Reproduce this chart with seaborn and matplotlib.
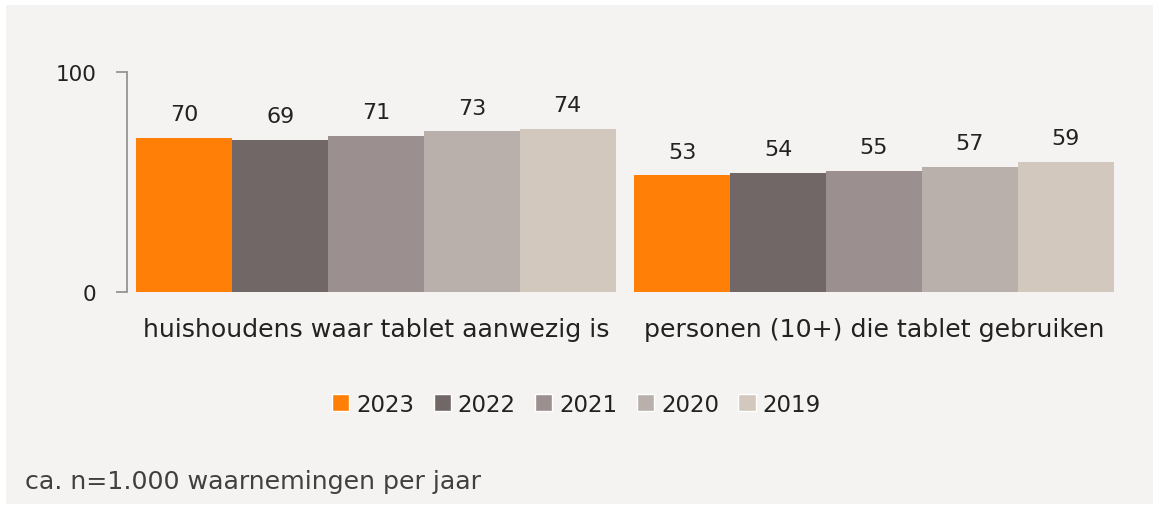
import pandas as pd
import numpy as np
import seaborn as sns
import matplotlib.pyplot as plt
from matplotlib.patches import Rectangle

categories = ["huishoudens waar tablet aanwezig is", "personen (10+) die tablet gebruiken"]
years = ["2023", "2022", "2021", "2020", "2019"]
values_2023 = [70, 53]
values_2022 = [69, 54]
values_2021 = [71, 55]
values_2020 = [73, 57]
values_2019 = [74, 59]
colors = ["#FF7F07", "#726767", "#9C8F8F", "#B9AFAB", "#D3C8BE"]
bg = "#F4F3F1"

series = [values_2023, values_2022, values_2021, values_2020, values_2019]
df = pd.DataFrame(
    [(cat, yr, vals[i]) for yr, vals in zip(years, series) for i, cat in enumerate(categories)],
    columns=["categorie", "jaar", "waarde"],
)

sns.set_style("white")
plt.rcParams['font.family'] = ['DejaVu Sans']

fig = plt.figure(figsize=(11.53, 5.06), dpi=100)
fig.patch.set_facecolor("white")
fig.patches.append(Rectangle((6 / 1153, 1 / 506), 1, 499 / 506, transform=fig.transFigure,
                             facecolor=bg, edgecolor="none", zorder=-10))

ax = fig.add_axes([127 / 1153, 1 - 293 / 506, 996 / 1153, 220 / 506])
ax.set_facecolor(bg)

sns.barplot(data=df, x="categorie", y="waarde", hue="jaar", order=categories,
            hue_order=years, palette=colors, saturation=1, width=0.962,
            edgecolor="none", linewidth=0, ax=ax, legend=False)

for c in ax.containers:
    ax.bar_label(c, padding=10, fontsize=16, color="#222222")

ax.set_ylim(0, 100)
ax.set_xlim(-0.5, 1.5)
ax.set_yticks([0, 100])
ax.set_xlabel("")
ax.set_ylabel("")
for s in ["top", "right", "bottom"]:
    ax.spines[s].set_visible(False)
ax.spines["left"].set_color("#8C8C8C")
ax.spines["left"].set_linewidth(1.2)
ax.tick_params(axis="y", length=8, width=1.2, color="#8C8C8C", labelsize=15.5,
               labelcolor="#222222", pad=14, left=True)
ax.tick_params(axis="x", length=0, labelsize=18.2, labelcolor="#222222", pad=18)

handles = [Rectangle((0, 0), 1, 1, facecolor=col) for col in colors]
fig.legend(handles, years, loc="center", bbox_to_anchor=(0.5, 1 - 405 / 506), ncol=5,
           frameon=False, fontsize=16.5, handlelength=0.75, handleheight=0.75,
           handletextpad=0.3, columnspacing=0.85, labelcolor="#222222")

fig.text(25 / 1153, 1 - 482 / 506, "ca. n=1.000 waarnemingen per jaar", fontsize=18.2,
         color="#404040", va="center", ha="left")

plt.savefig("out.png", dpi=100, facecolor=fig.get_facecolor())
